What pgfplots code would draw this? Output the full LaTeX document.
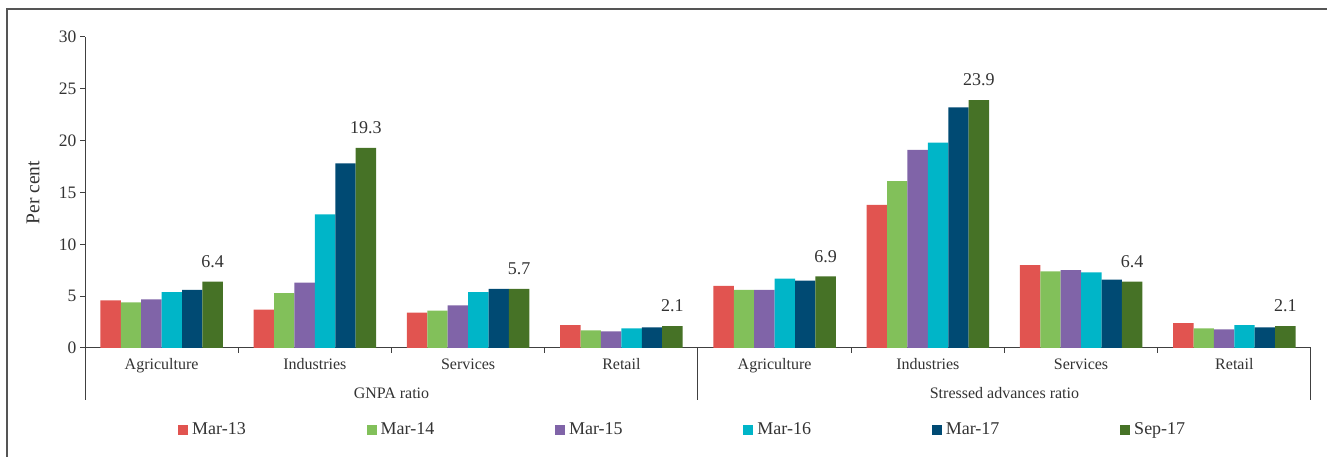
\documentclass[border=0pt]{standalone}
\usepackage{pgfplots}
\pgfplotsset{compat=1.18}
\usepackage{fontspec}
\setmainfont{Liberation Serif}
\definecolor{cA}{HTML}{E15450}
\definecolor{cB}{HTML}{82C05A}
\definecolor{cC}{HTML}{8064A8}
\definecolor{cD}{HTML}{00B5C8}
\definecolor{cE}{HTML}{004A73}
\definecolor{cF}{HTML}{467226}
\definecolor{txt}{HTML}{333333}
\definecolor{axc}{HTML}{404040}
\definecolor{frm}{HTML}{555555}

\pgfplotstableread{
x     m13   m14   m15   m16   m17   s17
0.5   4.6   4.4   4.7   5.4   5.6   6.4
1.5   3.7   5.3   6.3   12.9  17.8  19.3
2.5   3.4   3.6   4.1   5.4   5.7   5.7
3.5   2.2   1.7   1.6   1.9   2.0   2.1
4.5   6.0   5.6   5.6   6.7   6.5   6.9
5.5   13.8  16.1  19.1  19.8  23.2  23.9
6.5   8.0   7.4   7.5   7.3   6.6   6.4
7.5   2.4   1.9   1.8   2.2   2.0   2.1
}\datatable

\begin{document}
\begin{tikzpicture}[x=1pt,y=1pt]
\path[use as bounding box] (0,0) rectangle (1327,457);
\draw[frm, line width=2pt] (7,0) -- (7,448) -- (1327,448);
\begin{axis}[
  at={(85pt,109pt)}, anchor=south west,
  scale only axis, width=1226pt, height=311pt,
  xmin=0, xmax=8, ymin=0, ymax=30,
  clip=false,
  axis x line*=bottom, axis y line*=left,
  axis line style={axc, line width=1pt},
  tick align=outside, major tick length=5pt,
  ytick={0,5,...,30},
  ytick style={axc, line width=1pt},
  yticklabel style={font=\fontsize{17.5}{20}\selectfont, text=txt},
  /pgf/number format/assume math mode=true,
  xtick={0.5,1.5,...,7.5},
  xticklabels={Agriculture,Industries,Services,Retail,Agriculture,Industries,Services,Retail},
  xtick style={draw=none},
  xticklabel style={font=\fontsize{16}{19}\selectfont, text=txt, yshift=-2pt},
  extra x ticks={1,2,3,5,6,7},
  extra x tick labels={},
  extra x tick style={xtick style={draw=axc, line width=1pt}},
  ylabel={Per cent},
  ylabel style={at={(axis description cs:-0.0424,0.5)}, anchor=center, font=\fontsize{19.5}{22}\selectfont, text=txt},
  ybar=0pt, bar width=20.4pt,
  legend columns=6,
  legend style={at={(0.0759,-0.2625)}, anchor=west, draw=none, fill=none,
    inner sep=0pt, column sep=0pt, nodes={inner sep=0pt},
    font=\fontsize{18}{21}\selectfont, text=txt},
  legend cell align=left,
  legend image code/.code={\fill[#1] (0pt,-5pt) rectangle (10pt,5pt);},
]
\addplot[fill=cA, draw=none] table[x=x, y=m13] {\datatable};
\addplot[fill=cB, draw=none] table[x=x, y=m14] {\datatable};
\addplot[fill=cC, draw=none] table[x=x, y=m15] {\datatable};
\addplot[fill=cD, draw=none] table[x=x, y=m16] {\datatable};
\addplot[fill=cE, draw=none] table[x=x, y=m17] {\datatable};
\addplot[fill=cF, draw=none,
  nodes near coords={\pgfmathprintnumber[fixed,fixed zerofill,precision=1,assume math mode=true]{\pgfplotspointmeta}},
  nodes near coords style={font=\fontsize{18}{21}\selectfont, text=txt, inner sep=0pt, anchor=south, yshift=14pt}
  ] table[x=x, y=s17] {\datatable};
\legend{\hspace{4pt}\makebox[174.4pt][l]{Mar-13},\hspace{4pt}\makebox[174.4pt][l]{Mar-14},\hspace{4pt}\makebox[174.4pt][l]{Mar-15},\hspace{4pt}\makebox[174.4pt][l]{Mar-16},\hspace{4pt}\makebox[174.4pt][l]{Mar-17},\hspace{4pt}\makebox[174.4pt][l]{Sep-17}}
\draw[axc, line width=1pt] (axis cs:0,0) -- ++(0,-52pt);
\draw[axc, line width=1pt] (axis cs:4,0) -- ++(0,-52pt);
\draw[axc, line width=1pt] (axis cs:8,0) -- ++(0,-52pt);
\node[anchor=base, font=\fontsize{16}{19}\selectfont, text=txt] at ([yshift=-51pt]axis cs:2,0) {GNPA ratio};
\node[anchor=base, font=\fontsize{16}{19}\selectfont, text=txt] at ([yshift=-51pt]axis cs:6,0) {Stressed advances ratio};
\end{axis}
\end{tikzpicture}
\end{document}
